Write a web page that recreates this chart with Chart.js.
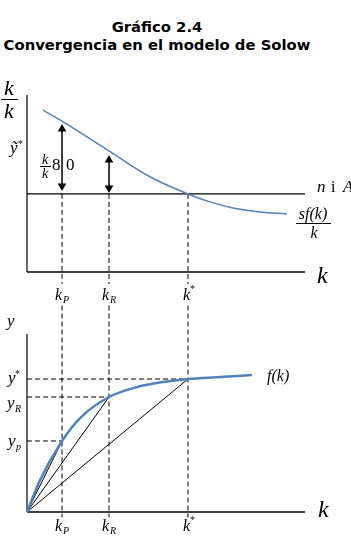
<!DOCTYPE html>
<html>
<head>
<meta charset="utf-8">
<script src="https://cdn.jsdelivr.net/npm/chart.js@4.4.1/dist/chart.umd.min.js"></script>
<style>
  body { margin: 0; background: #fff; }
  #wrap { position: relative; width: 351px; height: 546px; overflow: hidden; }
  .title { position: absolute; left: 0; width: 314px; text-align: center; font: bold 14.8px 'DejaVu Sans'; color: #000; white-space: nowrap; }
  canvas { position: absolute; left: 0; }
</style>
</head>
<body>
<div id="wrap">
  <div class="title" style="top:18px">Gráfico 2.4</div>
  <div class="title" style="top:36px">Convergencia en el modelo de Solow</div>
  <canvas id="topChart" width="351" height="245" style="top:60px"></canvas>
  <canvas id="bottomChart" width="351" height="246" style="top:300px"></canvas>
</div>
<script>
// capital per worker marks (poor, rich, steady state)
const kP = 1.26
const kR = 2.95
const kStar = 5.79

// top panel: sf(k)/k curve and the n+δ line
const growthK = [0.58, 1.29, 2.99, 4.42, 5.79, 6.58, 7.41, 8.38, 9.35]
const growthY = [9.15, 8.49, 6.80, 5.38, 4.41, 3.96, 3.62, 3.39, 3.28]
const depLine = 4.41
// arrow head centres (top, bottom)
const arrowP = [8.08, 4.86]
const arrowR = [6.33, 4.75]

// bottom panel: f(k)
const prodK = [0, 0.47, 1.26, 1.91, 2.95, 3.96, 4.89, 5.79, 6.94, 8.09]
const prodY = [0, 1.80, 3.99, 5.28, 6.46, 7.02, 7.30, 7.47, 7.58, 7.70]
const yP = 3.99
const yR = 6.46
const yStar = 7.47

const BLUE = '#4f81bd'

function seg(points, opts) {
  return Object.assign({
    data: points, showLine: true, pointRadius: 0, borderColor: '#000',
    borderWidth: 1, clip: false, fill: false
  }, opts)
}
const pts = (xs, ys) => xs.map((x, i) => ({ x: x, y: ys[i] }))
const dashed = { borderDash: [5, 3], borderWidth: 1 }

// text labels drawn on top of the charts
const notes = {
  id: 'notes',
  afterDraw(chart, args, opts) {
    const ctx = chart.ctx
    const xs = chart.scales.x
    ctx.save()
    ctx.fillStyle = '#000'
    ctx.strokeStyle = '#000'
    ctx.textBaseline = 'alphabetic'
    for (const n of opts.items || []) {
      const x = n.k !== undefined ? xs.getPixelForValue(n.k) + (n.dx || 0) : n.x
      if (n.bar) {
        ctx.lineWidth = 1
        ctx.beginPath()
        ctx.moveTo(x, n.y + 0.5)
        ctx.lineTo(x + n.bar, n.y + 0.5)
        ctx.stroke()
        continue
      }
      ctx.font = (n.up ? '' : 'italic ') + n.size + 'px "Liberation Serif"'
      ctx.textAlign = n.align || 'left'
      ctx.fillText(n.t, x, n.y)
    }
    ctx.restore()
  }
}

function kLabels(y) {
  return [
    { t: 'k', k: kP, dx: -7, y: y, size: 16 },
    { t: 'P', k: kP, dx: 1, y: y + 3, size: 10 },
    { t: 'k', k: kR, dx: -7, y: y, size: 16 },
    { t: 'R', k: kR, dx: 1, y: y + 3, size: 10 },
    { t: 'k', k: kStar, dx: -5, y: y, size: 16 },
    { t: '*', k: kStar, dx: 2, y: y - 8, size: 10, up: true },
  ]
}

function baseOptions(pad, items) {
  return {
    responsive: false,
    animation: false,
    devicePixelRatio: 1,
    layout: { padding: pad },
    scales: {
      x: { type: 'linear', min: 0, max: 10, display: false },
      y: { type: 'linear', min: 0, max: 10, display: false },
    },
    plugins: { legend: { display: false }, tooltip: { enabled: false }, notes: { items: items } },
  }
}

// top panel
new Chart(document.getElementById('topChart'), {
  type: 'scatter',
  data: {
    datasets: [
      seg(pts(growthK, growthY), { borderColor: BLUE, borderWidth: 1.5, tension: 0.4 }),
      seg([{ x: kP, y: arrowP[0] }, { x: kP, y: arrowP[1] }], {
        borderWidth: 1.5, pointStyle: 'triangle', pointRadius: 5, pointRotation: [0, 180],
        pointBackgroundColor: '#000', pointBorderWidth: 0
      }),
      seg([{ x: kR, y: arrowR[0] }, { x: kR, y: arrowR[1] }], {
        borderWidth: 1.5, pointStyle: 'triangle', pointRadius: 5, pointRotation: [0, 180],
        pointBackgroundColor: '#000', pointBorderWidth: 0
      }),
      seg([{ x: 0, y: depLine }, { x: 10, y: depLine }], { borderWidth: 1.2 }),
      seg([{ x: kP, y: depLine }, { x: kP, y: -0.68 }], dashed),
      seg([{ x: kR, y: depLine }, { x: kR, y: -0.68 }], dashed),
      seg([{ x: kStar, y: depLine }, { x: kStar, y: -0.68 }], dashed),
      seg([{ x: 0, y: 0 }, { x: 10, y: 0 }], { borderWidth: 1.5 }),
      seg([{ x: 0, y: 0 }, { x: 0, y: 10 }], { borderWidth: 1.5, borderColor: '#333' }),
    ]
  },
  options: baseOptions({ left: 27, right: 46, top: 35, bottom: 33 }, [
    { t: 'k', x: 9, y: 35, size: 22, align: 'center' },
    { bar: 17, x: 1, y: 39 },
    { t: 'k', x: 9, y: 58, size: 22, align: 'center' },
    { t: 'ỹ', x: 10, y: 93, size: 17 },
    { t: '*', x: 18, y: 87, size: 10, up: true },
    { t: 'k', x: 45, y: 104, size: 14, align: 'center' },
    { bar: 11, x: 40, y: 106 },
    { t: 'k', x: 45, y: 118, size: 14, align: 'center' },
    { t: '8', x: 52, y: 110, size: 17, up: true },
    { t: '0', x: 66, y: 110, size: 17, up: true },
    { t: 'n', x: 317, y: 132, size: 17 },
    { t: 'i', x: 331, y: 132, size: 16, up: true },
    { t: 'A', x: 343, y: 132, size: 17 },
    { t: 'sf(k)', x: 313, y: 159, size: 16, align: 'center' },
    { bar: 35, x: 296, y: 163 },
    { t: 'k', x: 314, y: 178, size: 16, align: 'center' },
    { t: 'k', x: 317, y: 223, size: 24 },
  ].concat(kLabels(240))),
  plugins: [notes]
})

// bottom panel
new Chart(document.getElementById('bottomChart'), {
  type: 'scatter',
  data: {
    datasets: [
      seg(pts(prodK, prodY), { borderColor: BLUE, borderWidth: 2.5, cubicInterpolationMode: 'monotone' }),
      seg([{ x: 0, y: 0 }, { x: kP, y: yP }]),
      seg([{ x: 0, y: 0 }, { x: kR, y: yR }]),
      seg([{ x: 0, y: 0 }, { x: kStar, y: yStar }]),
      seg([{ x: 0, y: yStar }, { x: kStar, y: yStar }], dashed),
      seg([{ x: 0, y: yR }, { x: kR, y: yR }], dashed),
      seg([{ x: 0, y: yP }, { x: kP, y: yP }], dashed),
      seg([{ x: kP, y: 11.6 }, { x: kP, y: -0.3 }], dashed),
      seg([{ x: kR, y: 11.6 }, { x: kR, y: -0.3 }], dashed),
      seg([{ x: kStar, y: 11.6 }, { x: kStar, y: -0.3 }], dashed),
      seg([{ x: 0, y: 0 }, { x: 10, y: 0 }], { borderWidth: 1.5 }),
      seg([{ x: 0, y: 0 }, { x: 0, y: 10 }], { borderWidth: 2, borderColor: '#666' }),
    ]
  },
  options: baseOptions({ left: 27, right: 46, top: 34, bottom: 34 }, [
    { t: 'y', x: 7, y: 26, size: 17 },
    { t: 'y', x: 8, y: 83, size: 17 },
    { t: '*', x: 15, y: 77, size: 10, up: true },
    { t: 'y', x: 7, y: 108, size: 17 },
    { t: 'R', x: 15, y: 112, size: 10 },
    { t: 'y', x: 8, y: 146, size: 17 },
    { t: 'p', x: 16, y: 150, size: 10 },
    { t: 'f(k)', x: 267, y: 81, size: 16 },
    { t: 'k', x: 318, y: 217, size: 24 },
  ].concat(kLabels(231))),
  plugins: [notes]
})
</script>
</body>
</html>
